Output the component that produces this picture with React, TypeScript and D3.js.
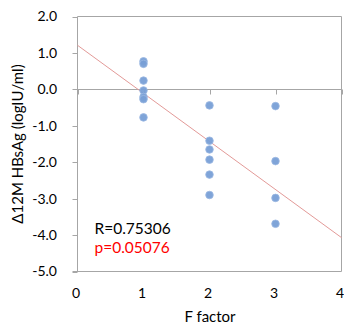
import React from "react";
import * as d3 from "d3";

const fFactor = [1, 1, 1, 1, 1, 1, 1, 2, 2, 2, 2, 2, 2, 3, 3, 3, 3];
const deltaHBsAg = [0.77, 0.7, 0.24, -0.03, -0.21, -0.27, -0.77, -0.44, -1.41, -1.65, -1.93, -2.34, -2.9, -0.46, -1.97, -2.98, -3.69];
const trendX = [0, 4];
const trendY = [1.21, -4.07];
const xTicks = [0, 1, 2, 3, 4];
const yTicks = [2, 1, 0, -1, -2, -3, -4, -5];
const statR = "R=0.75306";
const statP = "p=0.05076";
const xTitle = "F factor";
const yTitle = "Δ12M HBsAg (logIU/ml)";

const W = 344, H = 324;
const L = 77.5, R = 341.5, T = 16.5, B = 271.5;
const FONT = "Lato, 'Open Sans', sans-serif";

export default function App() {
  const x = d3.scaleLinear().domain([0, 4]).range([L, R]);
  const y = d3.scaleLinear().domain([-5, 2]).range([B, T]);
  const line = d3.line<number>().x((d, i) => x(trendX[i])).y((d) => y(d));
  const axisColor = "#a6a6a6";
  return (
    <svg width={W} height={H} style={{ position: "absolute", left: 0, top: 0, background: "#fff" }}>
      {/* plot border */}
      <line x1={L} x2={R} y1={T} y2={T} stroke={axisColor} />
      <line x1={R} x2={R} y1={T} y2={B} stroke={axisColor} />
      <line x1={L - 5} x2={R} y1={B} y2={B} stroke={axisColor} />
      {/* y axis */}
      <line x1={L} x2={L} y1={T} y2={B} stroke={axisColor} />
      {yTicks.map((t) => (
        <g key={t}>
          <line x1={L - 5} x2={L} y1={Math.round(y(t)) + 0.5} y2={Math.round(y(t)) + 0.5} stroke={axisColor} />
          <text x={57} y={y(t)} dy="0.35em" textAnchor="end" fontFamily={FONT} fontSize={14} fill="#000">
            {t.toFixed(1)}
          </text>
        </g>
      ))}
      {/* x axis at zero */}
      <line x1={L} x2={R} y1={Math.round(y(0)) + 0.5} y2={Math.round(y(0)) + 0.5} stroke={axisColor} />
      {xTicks.map((t) => (
        <g key={t}>
          <line x1={Math.round(x(t)) + 0.5} x2={Math.round(x(t)) + 0.5} y1={Math.round(y(0)) + 0.5} y2={Math.round(y(0)) + 5.5} stroke={axisColor} />
          <text x={x(t) - 1.5} y={298} textAnchor="middle" fontFamily={FONT} fontSize={14} fill="#000">
            {t}
          </text>
        </g>
      ))}
      {/* trend line */}
      <path d={line(trendY) || ""} fill="none" stroke="#e39a98" strokeWidth={1} />
      {/* points */}
      {deltaHBsAg.map((v, i) => (
        <circle key={i} cx={x(fFactor[i])} cy={y(v)} r={3.8} fill="#789fd6" stroke="#9bb8e2" strokeWidth={0.8} fillOpacity={0.95} />
      ))}
      <text x={94.5} y={234} fontFamily={FONT} fontSize={15.5} fill="#000">{statR}</text>
      <text x={94.5} y={253} fontFamily={FONT} fontSize={15.5} fill="#ff0000">{statP}</text>
      <text x={210} y={322} textAnchor="middle" fontFamily={FONT} fontSize={15} fill="#000">{xTitle}</text>
      <text transform={`translate(23,${(T + B) / 2}) rotate(-90)`} textAnchor="middle" fontFamily={FONT} fontSize={15} fill="#000">
        {yTitle}
      </text>
    </svg>
  );
}
